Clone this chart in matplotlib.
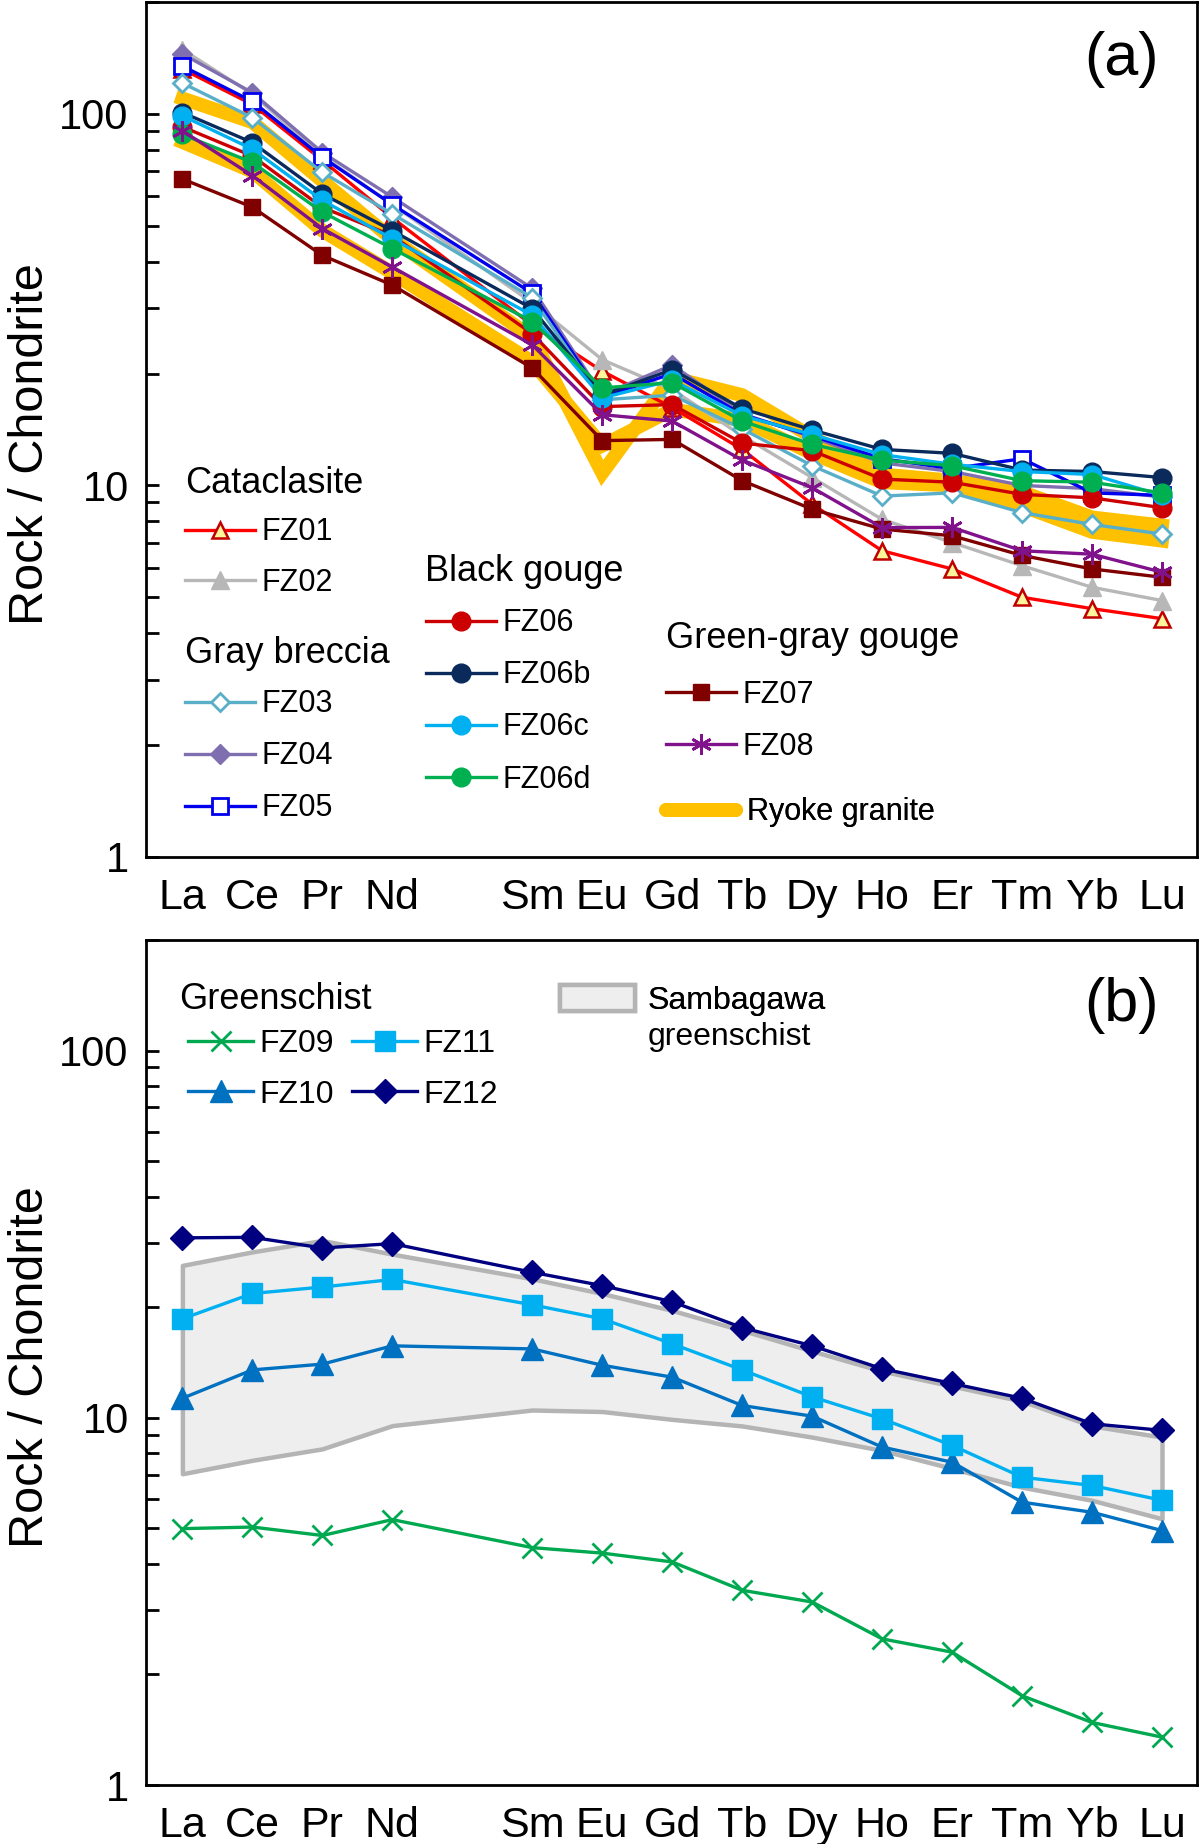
import matplotlib
matplotlib.use('Agg')
import matplotlib.pyplot as plt
from matplotlib.lines import Line2D
from matplotlib.patches import Patch
from matplotlib.ticker import LogLocator, FuncFormatter, NullFormatter

plt.rcParams['font.family'] = ['Liberation Sans', 'DejaVu Sans']

# ---------------- data ----------------
REE_ALL = ['La', 'Ce', 'Pr', 'Nd', 'Pm', 'Sm', 'Eu', 'Gd', 'Tb', 'Dy', 'Ho', 'Er', 'Tm', 'Yb', 'Lu']
elements = [e for e in REE_ALL if e != 'Pm']
x = [REE_ALL.index(e) for e in elements]

# panel (a)
fz01 = [132, 106, 75, 52.5, 27, 20.3, 16.2, 12.5, 8.9, 6.67, 5.96, 5.0, 4.66, 4.38]
fz02 = [149, 113, 77, 57, 31, 21.8, 18.1, 13.6, 10.5, 8.1, 7.02, 6.08, 5.32, 4.90]
fz03 = [121, 97.7, 69.6, 53.8, 32, 17, 17.5, 14.2, 11.3, 9.36, 9.55, 8.45, 7.85, 7.40]
fz04 = [145, 114, 78.7, 59.7, 33.9, 17.5, 21.1, 15.6, 13.5, 11.5, 10.9, 10.0, 9.8, 9.3]
fz05 = [134.5, 108, 76.4, 57, 32.9, 17.3, 20.0, 15.5, 13.6, 11.8, 11.1, 11.8, 9.55, 9.4]
fz06 = [92.3, 77, 56, 47, 25.6, 16.3, 16.5, 13.0, 12.4, 10.4, 10.2, 9.46, 9.26, 8.71]
fz06b = [100.8, 83.7, 60.9, 48.5, 29.9, 17.5, 20.5, 16.1, 14.1, 12.5, 12.2, 11.0, 10.9, 10.5]
fz06c = [98.8, 80.4, 58.5, 46.1, 28.7, 17.2, 19.2, 15.4, 13.7, 12.1, 11.4, 10.9, 10.7, 9.4]
fz06d = [88, 74, 54.4, 43.4, 27.6, 18.3, 18.9, 14.9, 12.9, 11.7, 11.3, 10.3, 10.2, 9.55]
fz07 = [66.8, 56.1, 41.6, 34.6, 20.7, 13.2, 13.3, 10.3, 8.63, 7.63, 7.32, 6.48, 5.96, 5.66]
fz08 = [90, 68.2, 49.1, 38.7, 23.9, 15.5, 14.9, 11.7, 9.86, 7.7, 7.71, 6.67, 6.53, 5.84]
ryoke_upper = [110, 95, 66, 46, 25, 10.8, 19.5, 17.5, 13.5, 10.7, 10.3, 9.6, 8.2, 7.8]
ryoke_lower = [84, 70, 48.5, 37.3, 21.5, 12.8, 16.0, 15.0, 12.2, 10.2, 10.0, 8.8, 7.5, 7.1]

# panel (b)
fz09 = [4.99, 5.04, 4.78, 5.28, 4.43, 4.28, 4.05, 3.39, 3.15, 2.50, 2.30, 1.75, 1.48, 1.35]
fz10 = [11.3, 13.5, 14.0, 15.7, 15.4, 13.9, 12.9, 10.8, 10.1, 8.32, 7.57, 5.89, 5.53, 4.93]
fz11 = [18.6, 21.8, 22.7, 23.8, 20.3, 18.6, 15.9, 13.5, 11.4, 9.93, 8.41, 6.89, 6.54, 5.96]
fz12 = [30.9, 31.0, 29.0, 29.8, 24.9, 22.9, 20.7, 17.6, 15.7, 13.6, 12.4, 11.3, 9.63, 9.24]
samb_upper = [26.0, 28.3, 30.4, 27.9, 23.9, 21.8, 19.6, 17.3, 15.2, 13.4, 12.2, 11.1, 9.5, 8.86]
samb_lower = [7.04, 7.66, 8.23, 9.52, 10.5, 10.4, 9.9, 9.5, 8.86, 8.15, 7.28, 6.47, 5.96, 5.31]

# ---------------- figure ----------------
W, H = 1200, 1844
AX_L, AX_R = 146, 1197
A_TOP, A_BOT = 2, 857
B_TOP, B_BOT = 940, 1785
fig = plt.figure(figsize=(W / 100, H / 100), dpi=100)
ax1 = fig.add_axes([AX_L / W, 1 - A_BOT / H, (AX_R - AX_L) / W, (A_BOT - A_TOP) / H])
ax2 = fig.add_axes([AX_L / W, 1 - B_BOT / H, (AX_R - AX_L) / W, (B_BOT - B_TOP) / H])

LW = 2.4
lw_ryoke = 10
YELLOW = '#FFC000'

# panel (a) series
ax1.plot(x, ryoke_upper, color=YELLOW, lw=lw_ryoke, solid_joinstyle='miter', zorder=1)
ax1.plot(x, ryoke_lower, color=YELLOW, lw=lw_ryoke, solid_joinstyle='miter', zorder=1)

styles_a = [
    ('FZ01', fz01, dict(color='#FF0000', marker='^', ms=12, mfc='#FFF59A', mec='#C00000', mew=1.8)),
    ('FZ02', fz02, dict(color='#B7B7B7', marker='^', ms=13, mfc='#B7B7B7', mec='#B7B7B7')),
    ('FZ04', fz04, dict(color='#7F6FB0', marker='D', ms=10, mfc='#7F6FB0', mec='#7F6FB0')),
    ('FZ05', fz05, dict(color='#0000EE', marker='s', ms=11.5, mfc='white', mec='#0000EE', mew=2)),
    ('FZ03', fz03, dict(color='#5AAFC8', marker='D', ms=9.5, mfc='white', mec='#5AAFC8', mew=2)),
    ('FZ06', fz06, dict(color='#CC0000', marker='o', ms=13.5, mfc='#CC0000', mec='#CC0000')),
    ('FZ06b', fz06b, dict(color='#0A2A5C', marker='o', ms=13.5, mfc='#0A2A5C', mec='#0A2A5C')),
    ('FZ06c', fz06c, dict(color='#00B0F0', marker='o', ms=13.5, mfc='#00B0F0', mec='#00B0F0')),
    ('FZ06d', fz06d, dict(color='#00B050', marker='o', ms=13.5, mfc='#00B050', mec='#00B050')),
    ('FZ07', fz07, dict(color='#800000', marker='s', ms=12, mfc='#800000', mec='#800000')),
    ('FZ08', fz08, dict(color='#80128C', marker=(6, 2, 0), ms=15, mfc='#80128C', mec='#80128C', mew=2)),
]
handles = {}
for i, (name, vals, st) in enumerate(styles_a):
    ln, = ax1.plot(x, vals, lw=LW, label=name, zorder=2 + i, **st)
    handles[name] = ln
handles['Ryoke granite'] = Line2D([], [], color=YELLOW, lw=lw_ryoke, solid_capstyle='round')

# panel (b)
ax2.fill_between(x, samb_lower, samb_upper, facecolor='#EEEEEE', edgecolor='#B4B4B4', lw=3.2, zorder=1)
st_b = [
    ('FZ09', fz09, dict(color='#00A84F', marker='x', ms=15, mew=2)),
    ('FZ10', fz10, dict(color='#0070C0', marker='^', ms=16, mfc='#0070C0', mec='#0070C0')),
    ('FZ11', fz11, dict(color='#00B0F0', marker='s', ms=15, mfc='#00B0F0', mec='#00B0F0')),
    ('FZ12', fz12, dict(color='#000080', marker='D', ms=12.5, mfc='#000080', mec='#000080')),
]
hb = {}
for i, (name, vals, st) in enumerate(st_b):
    ln, = ax2.plot(x, vals, lw=LW, label=name, zorder=3 + i, **st)
    hb[name] = ln

# ---------------- axes styling ----------------
for ax in (ax1, ax2):
    ax.set_yscale('log')
    ax.set_ylim(1, 200)
    ax.set_xlim(-0.52, 14.5)
    ax.set_xticks(x)
    ax.set_xticklabels(elements)
    ax.yaxis.set_major_locator(LogLocator(base=10, numticks=10))
    ax.yaxis.set_minor_locator(LogLocator(base=10, subs=range(2, 10), numticks=20))
    ax.yaxis.set_major_formatter(FuncFormatter(lambda v, p: f'{v:g}'))
    ax.yaxis.set_minor_formatter(NullFormatter())
    ax.tick_params(axis='y', which='both', direction='in', length=9.5, width=2,
                   right=False, labelsize=30, pad=12.5)
    ax.tick_params(axis='x', length=0, labelsize=31, pad=15)
    for sp in ax.spines.values():
        sp.set_linewidth(2)
    ax.set_ylabel('Rock / Chondrite', fontsize=35)

ax1.yaxis.set_label_coords((53.5 - AX_L) / (AX_R - AX_L), 0.483)
ax2.yaxis.set_label_coords((53.5 - AX_L) / (AX_R - AX_L), 0.495)

ax1.text(0.928, 0.933, '(a)', transform=ax1.transAxes, fontsize=44, ha='center', va='center')
ax2.text(0.928, 0.922, '(b)', transform=ax2.transAxes, fontsize=44, ha='center', va='center')


# ---------------- legends ----------------
def to_axes(ax, px, py):
    if ax is ax1:
        top, bot = A_TOP, A_BOT
    else:
        top, bot = B_TOP, B_BOT
    return ((px - AX_L) / (AX_R - AX_L), (bot - py) / (bot - top))


def heading(ax, txt, px, py_center, fs):
    fs_px = fs * 100 / 72
    ax.text(*to_axes(ax, px, py_center + 0.36 * fs_px), txt, transform=ax.transAxes,
            fontsize=fs, ha='left', va='baseline')


def entries(ax, names, hdict, px, first_center, pitch, fs=22, ncol=1, hlen=2.3,
            htp=0.2, colsp=0.6, hheight=0.7):
    fs_px = fs * 100 / 72
    row_h = 0.99 * fs_px
    lsp = (pitch - row_h) / fs_px
    leg = ax.legend([hdict[n] for n in names], names, loc='upper left',
                    bbox_to_anchor=to_axes(ax, px, first_center - row_h / 2),
                    frameon=False, fontsize=fs, borderpad=0, borderaxespad=0,
                    handlelength=hlen, handletextpad=htp, handleheight=hheight,
                    labelspacing=lsp, numpoints=1, ncol=ncol, columnspacing=colsp)
    ax.add_artist(leg)
    return leg


heading(ax1, 'Cataclasite', 185, 480, 26)
entries(ax1, ['FZ01', 'FZ02'], handles, 185, 532.5, 51)
heading(ax1, 'Gray breccia', 185, 650, 26)
entries(ax1, ['FZ03', 'FZ04', 'FZ05'], handles, 185, 704.5, 52.3)
heading(ax1, 'Black gouge', 425, 568, 26)
entries(ax1, ['FZ06', 'FZ06b', 'FZ06c', 'FZ06d'], handles, 426, 623.5, 52.3)
heading(ax1, 'Green-gray gouge', 666, 635, 26)
entries(ax1, ['FZ07', 'FZ08'], handles, 666, 695, 52)
entries(ax1, ['Ryoke granite'], handles, 666, 812.5, 52, hlen=2.3, htp=0.36)

heading(ax2, 'Greenschist', 179, 996, 26)
entries(ax2, ['FZ09', 'FZ10', 'FZ11', 'FZ12'], hb, 188, 1045, 52, fs=23, ncol=2,
        hlen=2.05, colsp=0.55)

samb = {'Sambagawa': Patch(facecolor='#EEEEEE', edgecolor='#B4B4B4', lw=3.2)}
entries(ax2, ['Sambagawa'], samb, 560, 1000.5, 37, fs=23, hlen=2.35, htp=0.4, hheight=0.88)
ax2.text(*to_axes(ax2, 648, 996 + 37 + 0.36 * 23 * 100 / 72), 'greenschist',
         transform=ax2.transAxes, fontsize=23, ha='left', va='baseline')

fig.savefig('out.png', dpi=100)
